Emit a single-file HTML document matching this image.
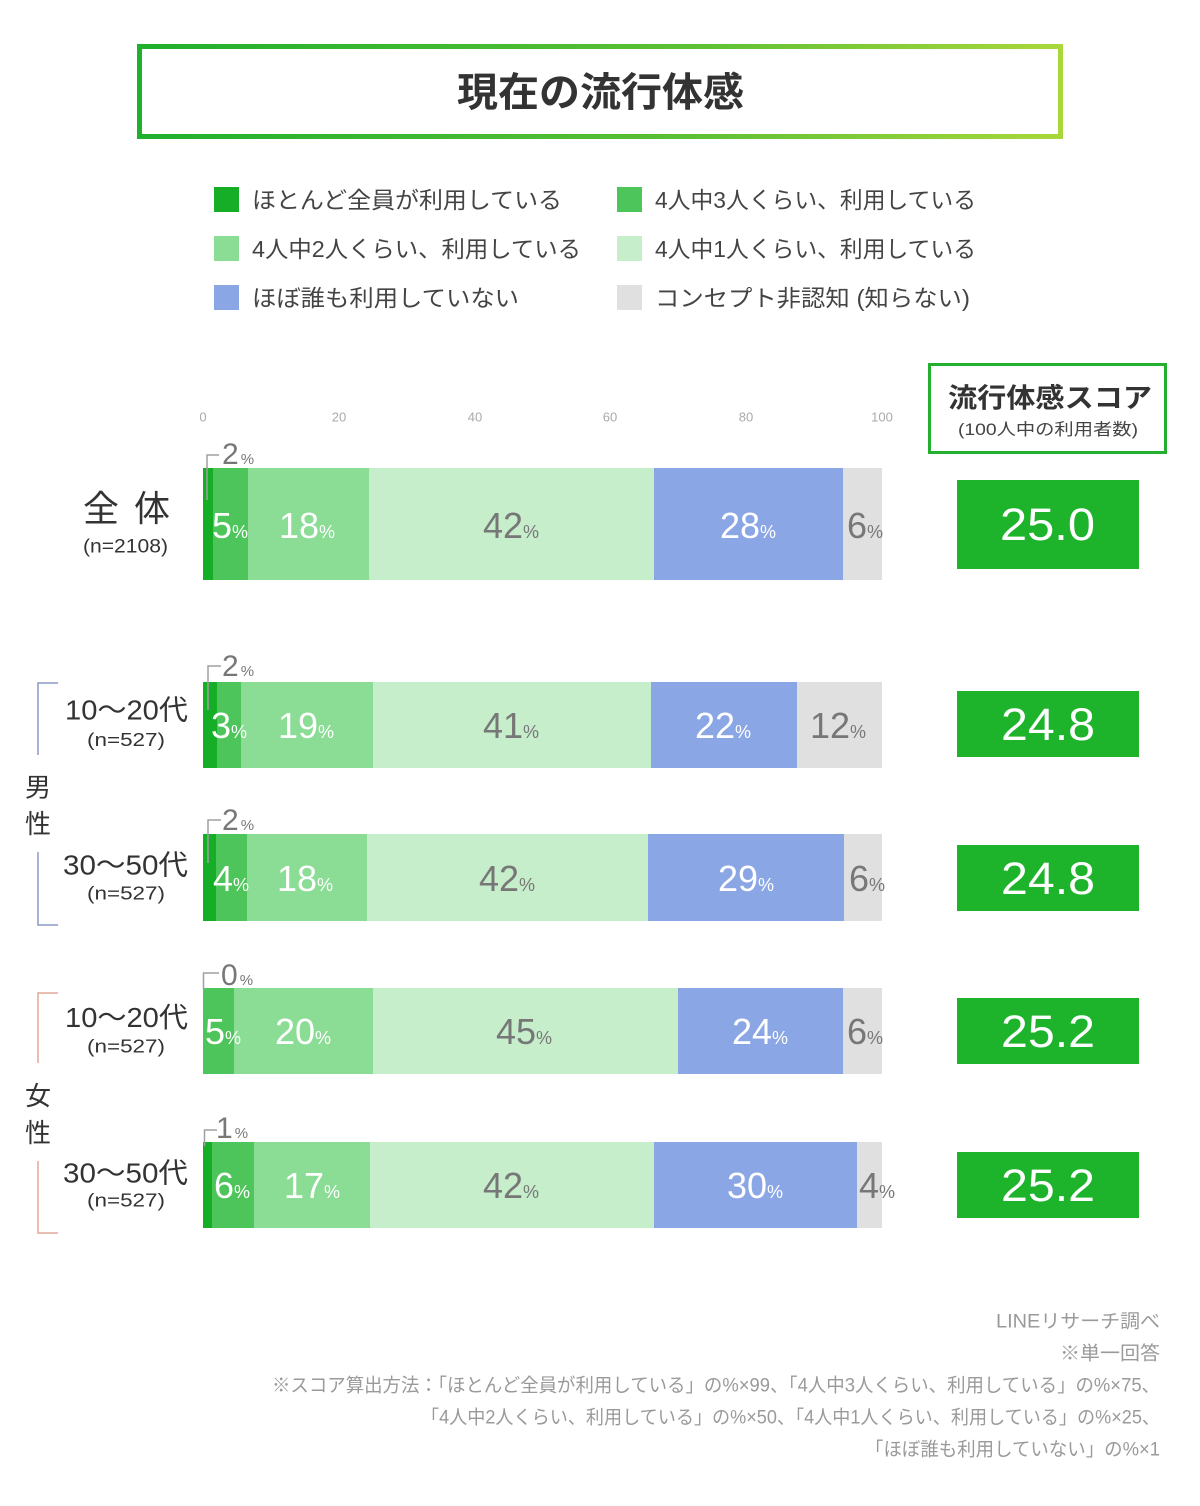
<!DOCTYPE html>
<html lang="ja">
<head>
<meta charset="utf-8">
<title>現在の流行体感</title>
<style>
  html,body{margin:0;padding:0;background:#fff;}
  svg{display:block;}
  text{font-family:"Liberation Sans","Noto Sans CJK JP",sans-serif;}
</style>
</head>
<body>
<svg width="1200" height="1506" viewBox="0 0 1200 1506" xmlns="http://www.w3.org/2000/svg">
  <defs>
    <linearGradient id="tg" x1="0" y1="0" x2="1" y2="0">
      <stop offset="0" stop-color="#1fb02d"/>
      <stop offset="0.6" stop-color="#5cc035"/>
      <stop offset="1" stop-color="#a9d73a"/>
    </linearGradient>
  </defs>
  <rect x="0" y="0" width="1200" height="1506" fill="#fff"/>

  <!-- Title -->
  <rect x="139.5" y="46.5" width="921" height="90" fill="#fff" stroke="url(#tg)" stroke-width="5"/>
  <text x="457" y="93" dominant-baseline="central" font-size="40" font-weight="bold" fill="#333" textLength="287" lengthAdjust="spacingAndGlyphs">現在の流行体感</text>

  <!-- Legend -->
  <rect x="214" y="187" width="25" height="25" fill="#17ae27"/>
  <rect x="617" y="187" width="25" height="25" fill="#4dc55a"/>
  <rect x="214" y="236" width="25" height="25" fill="#8bdc95"/>
  <rect x="617" y="236" width="25" height="25" fill="#c6eecb"/>
  <rect x="214" y="285" width="25" height="25" fill="#8ba6e5"/>
  <rect x="617" y="285" width="25" height="25" fill="#e0e0e0"/>
  <g font-size="23" fill="#444" dominant-baseline="central">
    <text x="252" y="200" textLength="310" lengthAdjust="spacingAndGlyphs">ほとんど全員が利用している</text>
    <text x="655" y="200" textLength="321" lengthAdjust="spacingAndGlyphs">4人中3人くらい、利用している</text>
    <text x="252" y="249" textLength="329" lengthAdjust="spacingAndGlyphs">4人中2人くらい、利用している</text>
    <text x="655" y="249" textLength="321" lengthAdjust="spacingAndGlyphs">4人中1人くらい、利用している</text>
    <text x="252" y="298" textLength="267" lengthAdjust="spacingAndGlyphs">ほぼ誰も利用していない</text>
    <text x="655" y="298" textLength="315" lengthAdjust="spacingAndGlyphs">コンセプト非認知 (知らない)</text>
  </g>

  <!-- Axis ticks -->
  <g font-size="13" fill="#aaa" text-anchor="middle" dominant-baseline="central">
    <text x="203" y="417">0</text>
    <text x="339" y="417">20</text>
    <text x="475" y="417">40</text>
    <text x="610" y="417">60</text>
    <text x="746" y="417">80</text>
    <text x="882" y="417">100</text>
  </g>

  <!-- Score header -->
  <rect x="929.5" y="364.5" width="236" height="88" fill="#fff" stroke="#22b02e" stroke-width="3"/>
  <text x="948" y="398.5" dominant-baseline="central" font-size="27" font-weight="bold" fill="#333" textLength="204" lengthAdjust="spacingAndGlyphs">流行体感スコア</text>
  <text x="958" y="430" dominant-baseline="central" font-size="16.5" fill="#444" textLength="180" lengthAdjust="spacingAndGlyphs">(100人中の利用者数)</text>

  <!-- Bar 1: 全体 -->
  <g>
    <rect x="203" y="468" width="10" height="112" fill="#17ae27"/>
    <rect x="213" y="468" width="35" height="112" fill="#4dc55a"/>
    <rect x="248" y="468" width="121" height="112" fill="#8bdc95"/>
    <rect x="369" y="468" width="285" height="112" fill="#c6eecb"/>
    <rect x="654" y="468" width="189" height="112" fill="#8ba6e5"/>
    <rect x="843" y="468" width="39" height="112" fill="#e0e0e0"/>
  </g>
  <!-- Bar 2 -->
  <g>
    <rect x="203" y="682" width="14" height="86" fill="#17ae27"/>
    <rect x="217" y="682" width="24" height="86" fill="#4dc55a"/>
    <rect x="241" y="682" width="132" height="86" fill="#8bdc95"/>
    <rect x="373" y="682" width="278" height="86" fill="#c6eecb"/>
    <rect x="651" y="682" width="146" height="86" fill="#8ba6e5"/>
    <rect x="797" y="682" width="85" height="86" fill="#e0e0e0"/>
  </g>
  <!-- Bar 3 -->
  <g>
    <rect x="203" y="834" width="13" height="87" fill="#17ae27"/>
    <rect x="216" y="834" width="31" height="87" fill="#4dc55a"/>
    <rect x="247" y="834" width="120" height="87" fill="#8bdc95"/>
    <rect x="367" y="834" width="281" height="87" fill="#c6eecb"/>
    <rect x="648" y="834" width="196" height="87" fill="#8ba6e5"/>
    <rect x="844" y="834" width="38" height="87" fill="#e0e0e0"/>
  </g>
  <!-- Bar 4 -->
  <g>
    <rect x="203" y="988" width="31" height="86" fill="#4dc55a"/>
    <rect x="234" y="988" width="139" height="86" fill="#8bdc95"/>
    <rect x="373" y="988" width="305" height="86" fill="#c6eecb"/>
    <rect x="678" y="988" width="165" height="86" fill="#8ba6e5"/>
    <rect x="843" y="988" width="39" height="86" fill="#e0e0e0"/>
  </g>
  <!-- Bar 5 -->
  <g>
    <rect x="203" y="1142" width="9" height="86" fill="#17ae27"/>
    <rect x="212" y="1142" width="42" height="86" fill="#4dc55a"/>
    <rect x="254" y="1142" width="116" height="86" fill="#8bdc95"/>
    <rect x="370" y="1142" width="284" height="86" fill="#c6eecb"/>
    <rect x="654" y="1142" width="203" height="86" fill="#8ba6e5"/>
    <rect x="857" y="1142" width="25" height="86" fill="#e0e0e0"/>
  </g>

  <!-- Callout brackets -->
  <g fill="none" stroke="#a0a0a0" stroke-width="1.5">
    <path d="M219,455 H207 V500"/>
    <path d="M221,666 H208 V710"/>
    <path d="M221,820 H208 V863"/>
    <path d="M219,973 H203.5 V990"/>
    <path d="M217,1130 H204.5 V1146"/>
  </g>
  <g fill="#777" font-size="30">
    <text x="222" y="464">2<tspan font-size="15" dx="2">%</tspan></text>
    <text x="222" y="676">2<tspan font-size="15" dx="2">%</tspan></text>
    <text x="222" y="830">2<tspan font-size="15" dx="2">%</tspan></text>
    <text x="221" y="985">0<tspan font-size="15" dx="2">%</tspan></text>
    <text x="216" y="1138">1<tspan font-size="15" dx="2">%</tspan></text>
  </g>

  <!-- Segment labels -->
  <g font-size="36" text-anchor="middle">
    <!-- Bar 1 -->
    <text x="230" y="538" fill="#fff">5<tspan font-size="18">%</tspan></text>
    <text x="307" y="538" fill="#fff">18<tspan font-size="18">%</tspan></text>
    <text x="511" y="538" fill="#777">42<tspan font-size="18">%</tspan></text>
    <text x="748" y="538" fill="#fff">28<tspan font-size="18">%</tspan></text>
    <text x="865" y="538" fill="#777">6<tspan font-size="18">%</tspan></text>
    <!-- Bar 2 -->
    <text x="229" y="738" fill="#fff">3<tspan font-size="18">%</tspan></text>
    <text x="306" y="738" fill="#fff">19<tspan font-size="18">%</tspan></text>
    <text x="511" y="738" fill="#777">41<tspan font-size="18">%</tspan></text>
    <text x="723" y="738" fill="#fff">22<tspan font-size="18">%</tspan></text>
    <text x="838" y="738" fill="#777">12<tspan font-size="18">%</tspan></text>
    <!-- Bar 3 -->
    <text x="231" y="891" fill="#fff">4<tspan font-size="18">%</tspan></text>
    <text x="305" y="891" fill="#fff">18<tspan font-size="18">%</tspan></text>
    <text x="507" y="891" fill="#777">42<tspan font-size="18">%</tspan></text>
    <text x="746" y="891" fill="#fff">29<tspan font-size="18">%</tspan></text>
    <text x="867" y="891" fill="#777">6<tspan font-size="18">%</tspan></text>
    <!-- Bar 4 -->
    <text x="223" y="1044" fill="#fff">5<tspan font-size="18">%</tspan></text>
    <text x="303" y="1044" fill="#fff">20<tspan font-size="18">%</tspan></text>
    <text x="524" y="1044" fill="#777">45<tspan font-size="18">%</tspan></text>
    <text x="760" y="1044" fill="#fff">24<tspan font-size="18">%</tspan></text>
    <text x="865" y="1044" fill="#777">6<tspan font-size="18">%</tspan></text>
    <!-- Bar 5 -->
    <text x="232" y="1198" fill="#fff">6<tspan font-size="18">%</tspan></text>
    <text x="312" y="1198" fill="#fff">17<tspan font-size="18">%</tspan></text>
    <text x="511" y="1198" fill="#777">42<tspan font-size="18">%</tspan></text>
    <text x="755" y="1198" fill="#fff">30<tspan font-size="18">%</tspan></text>
    <text x="877" y="1198" fill="#777">4<tspan font-size="18">%</tspan></text>
  </g>

  <!-- Left labels -->
  <g fill="#333" dominant-baseline="central">
    <text x="83" y="508.5" font-size="36" textLength="87" lengthAdjust="spacing">全 体</text>
    <text x="83" y="547" font-size="19" textLength="85" lengthAdjust="spacingAndGlyphs">(n=2108)</text>

    <text x="65" y="710" font-size="28" textLength="123" lengthAdjust="spacingAndGlyphs">10～20代</text>
    <text x="87" y="740" font-size="18" textLength="78" lengthAdjust="spacingAndGlyphs">(n=527)</text>
    <text x="63" y="865" font-size="28" textLength="125" lengthAdjust="spacingAndGlyphs">30～50代</text>
    <text x="87" y="893.5" font-size="18" textLength="78" lengthAdjust="spacingAndGlyphs">(n=527)</text>

    <text x="65" y="1017.5" font-size="28" textLength="123" lengthAdjust="spacingAndGlyphs">10～20代</text>
    <text x="87" y="1046.5" font-size="18" textLength="78" lengthAdjust="spacingAndGlyphs">(n=527)</text>
    <text x="63" y="1173" font-size="28" textLength="125" lengthAdjust="spacingAndGlyphs">30～50代</text>
    <text x="87" y="1200.5" font-size="18" textLength="78" lengthAdjust="spacingAndGlyphs">(n=527)</text>

    <text x="38" y="787.5" font-size="26" text-anchor="middle">男</text>
    <text x="38" y="824" font-size="26" text-anchor="middle">性</text>
    <text x="38" y="1096" font-size="26" text-anchor="middle">女</text>
    <text x="38" y="1133" font-size="26" text-anchor="middle">性</text>
  </g>

  <!-- Group brackets -->
  <g fill="none" stroke-width="1.5">
    <path d="M58,683 H38 V755" stroke="#8a98c8"/>
    <path d="M38,852 V925 H58" stroke="#8a98c8"/>
    <path d="M58,993 H38 V1063" stroke="#e3a896"/>
    <path d="M38,1161 V1233 H58" stroke="#e3a896"/>
  </g>

  <!-- Score boxes -->
  <g fill="#1db42c">
    <rect x="957" y="480" width="182" height="89"/>
    <rect x="957" y="691" width="182" height="66"/>
    <rect x="957" y="845" width="182" height="66"/>
    <rect x="957" y="998" width="182" height="66"/>
    <rect x="957" y="1152" width="182" height="66"/>
  </g>
  <g fill="#fff" font-size="45">
    <text x="1000" y="540" textLength="95" lengthAdjust="spacingAndGlyphs">25.0</text>
    <text x="1001" y="740" textLength="94" lengthAdjust="spacingAndGlyphs">24.8</text>
    <text x="1001" y="894" textLength="94" lengthAdjust="spacingAndGlyphs">24.8</text>
    <text x="1001" y="1047" textLength="94" lengthAdjust="spacingAndGlyphs">25.2</text>
    <text x="1001" y="1201" textLength="94" lengthAdjust="spacingAndGlyphs">25.2</text>
  </g>

  <!-- Footnotes -->
  <g fill="#9a9a9a" font-size="19" dominant-baseline="central">
    <text x="996" y="1322" textLength="164" lengthAdjust="spacingAndGlyphs">LINEリサーチ調べ</text>
    <text x="1060" y="1354" textLength="100" lengthAdjust="spacingAndGlyphs">※単一回答</text>
    <text x="272" y="1386" textLength="888" lengthAdjust="spacingAndGlyphs">※スコア算出方法：「ほとんど全員が利用している」の%×99、「4人中3人くらい、利用している」の%×75、</text>
    <text x="421" y="1418" textLength="739" lengthAdjust="spacingAndGlyphs">「4人中2人くらい、利用している」の%×50、「4人中1人くらい、利用している」の%×25、</text>
    <text x="865" y="1450" textLength="295" lengthAdjust="spacingAndGlyphs">「ほぼ誰も利用していない」の%×1</text>
  </g>
</svg>
</body>
</html>
